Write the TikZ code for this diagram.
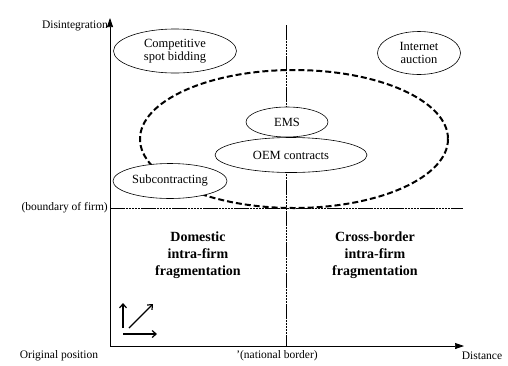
\documentclass[tikz,border=0pt]{standalone}
\usepackage{fontspec}
\setmainfont{Liberation Serif}
\usetikzlibrary{shapes.geometric,arrows.meta}

\tikzset{
  bubble/.style={draw,ellipse,fill=white,align=center,inner sep=0pt,line width=0.6pt,font=\fontsize{12.5}{13.5}\selectfont},
  axislabel/.style={inner sep=0pt,font=\fontsize{11.5}{14}\selectfont},
  quadrant/.style={align=center,inner sep=0pt,font=\fontsize{14}{17}\selectfont\bfseries},
  fineline/.style={line width=0.9pt,dash pattern=on 2.5pt off 0.6pt},
  axisline/.style={line width=0.7pt,-{Triangle[length=9pt,width=6pt]}},
  dirarrow/.style={line width=1.2pt,-{Straight Barb[length=4pt,width=7pt]}},
}

\begin{document}
\begin{tikzpicture}[x=1pt,y=-1pt]
\useasboundingbox (0,0) rectangle (508,365);
% axes
\coordinate (O) at (110,346);
\coordinate (ytop) at (110,18);
\coordinate (xend) at (464,346);
\draw [axisline] (O)--(ytop);
\draw [axisline] (O)--(xend);
\node [axislabel,anchor=east] (dis) at (108,26) {Disintegration};
\node [axislabel] (orig) at (59,356) {Original position};
\node [axislabel] (nat) at (277,356) {'(national border)};
\node [axislabel] (dist) at (482,356) {Distance};
% boundary of firm and national border
\coordinate (bl) at (110,208);
\coordinate (br) at (463,208);
\coordinate (nt) at (286,25);
\coordinate (nb) at (286,346);
\draw [fineline] (bl)--(br);
\draw [fineline] (nt)--(nb);
\node [axislabel,anchor=east] (bof) at (108,208) {(boundary of firm)};
% network region
\draw [line width=2pt,dash pattern=on 6pt off 3pt] (294,139) ellipse (154 and 69);
% forms
\node [bubble,minimum width=123pt,minimum height=44pt] (csb) at (175,51) {Competitive\\spot bidding};
\node [bubble,minimum width=83pt,minimum height=43pt] (ia) at (419,53) {Internet\\auction};
\node [bubble,minimum width=82pt,minimum height=30pt] (ems) at (287,122) {EMS};
\node [bubble,minimum width=152pt,minimum height=35pt] (oem) at (291,155) {OEM contracts};
\node [bubble,minimum width=114pt,minimum height=35pt] (sub) at (170,181) {Subcontracting};
% quadrants
\node [quadrant] (dom) at (198,255) {Domestic\\intra-firm\\fragmentation};
\node [quadrant] (cross) at (375,255) {Cross-border\\intra-firm\\fragmentation};
% directions
\coordinate (a0) at (123,328);
\coordinate (a1) at (123,303);
\coordinate (b0) at (129,328);
\coordinate (b1) at (153,304);
\coordinate (c0) at (123,334);
\coordinate (c1) at (157,334);
\draw [dirarrow] (a0)--(a1);
\draw [dirarrow] (b0)--(b1);
\draw [dirarrow] (c0)--(c1);
\end{tikzpicture}
\end{document}
